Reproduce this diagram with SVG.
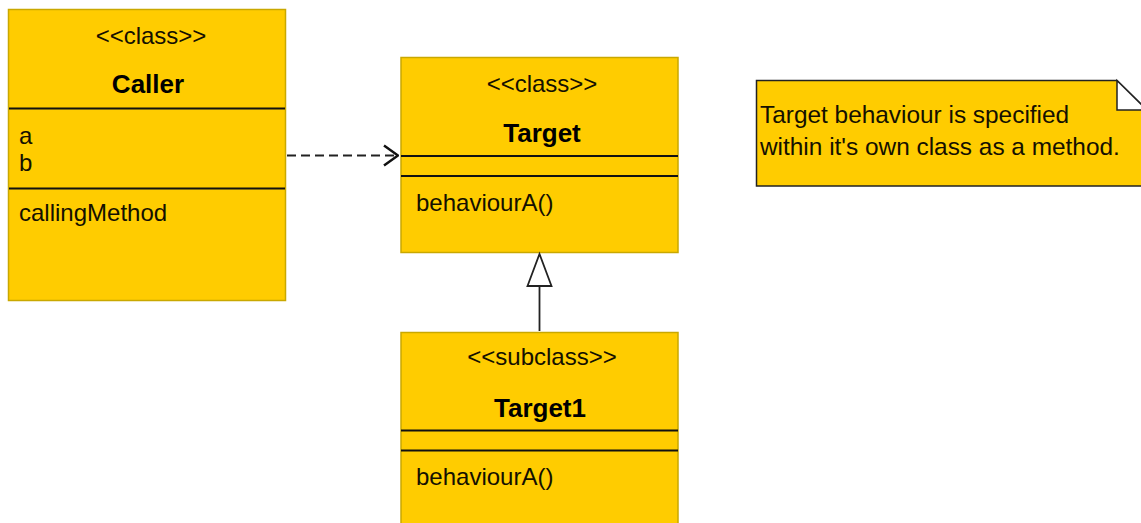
<svg xmlns="http://www.w3.org/2000/svg" width="1141" height="523" viewBox="0 0 1141 523">
<defs>
<style>
.box{fill:#ffcc00;stroke:#c9a800;stroke-width:1.5}
.sep{stroke:#111;stroke-width:2}
.t{font-family:"Liberation Sans",Arial,sans-serif;font-size:24px;fill:#141000}
.nt{font-family:"Liberation Sans",Arial,sans-serif;font-size:24.4px;fill:#141000}
.st{font-family:"Liberation Sans",Arial,sans-serif;font-size:24px;fill:#141000;text-anchor:middle}
.nm{font-family:"Liberation Sans",Arial,sans-serif;font-size:26px;font-weight:bold;fill:#000;text-anchor:middle}
.edge{fill:none;stroke:#222;stroke-width:1.8}
</style>
<marker id="open" markerWidth="16" markerHeight="24" refX="15" refY="12" orient="auto" markerUnits="userSpaceOnUse">
<path d="M1,2 L15,12 L1,22" fill="none" stroke="#111" stroke-width="2.5"/>
</marker>
</defs>
<rect width="1141" height="523" fill="#fff"/>
<g id="caller">
<rect class="box" x="8.5" y="9.5" width="277" height="291"/>
<line class="sep" x1="9" y1="108.5" x2="285" y2="108.5"/>
<line class="sep" x1="9" y1="188.5" x2="285" y2="188.5"/>
<text class="st" x="151" y="44">&lt;&lt;class&gt;&gt;</text>
<text class="nm" x="148" y="93">Caller</text>
<text class="t" x="19" y="144">a</text>
<text class="t" x="19" y="171">b</text>
<text class="t" x="19" y="221">callingMethod</text>
</g>
<g id="target">
<rect class="box" x="401" y="57.5" width="277" height="195"/>
<line class="sep" x1="401" y1="156" x2="678" y2="156"/>
<line class="sep" x1="401" y1="176" x2="678" y2="176"/>
<text class="st" x="542" y="92">&lt;&lt;class&gt;&gt;</text>
<text class="nm" x="542" y="142">Target</text>
<text class="t" x="416" y="211">behaviourA()</text>
</g>
<g id="target1">
<rect class="box" x="401" y="332.5" width="277" height="200"/>
<line class="sep" x1="401" y1="430.5" x2="678" y2="430.5"/>
<line class="sep" x1="401" y1="450.5" x2="678" y2="450.5"/>
<text class="st" x="542" y="365">&lt;&lt;subclass&gt;&gt;</text>
<text class="nm" x="540" y="417">Target1</text>
<text class="t" x="416" y="485">behaviourA()</text>
</g>
<g id="note">
<path d="M756.5,80.5 L1117,80.5 L1147,110 L1147,186 L756.5,186 Z" fill="#ffcc00" stroke="#222" stroke-width="1.5"/>
<path d="M1117,80.5 L1117,110 L1147,110 Z" fill="#fff" stroke="#222" stroke-width="1.5"/>
<text class="nt" x="760" y="123">Target behaviour is specified</text>
<text class="nt" x="760" y="155">within it's own class as a method.</text>
</g>
<g id="connectors">
<line class="edge" x1="287" y1="155.5" x2="398" y2="155.5" stroke-dasharray="9,5" marker-end="url(#open)"/>
<line class="edge" x1="539.5" y1="331" x2="539.5" y2="286"/>
<path d="M539.5,254 L551.5,286 L527.5,286 Z" fill="#fff" stroke="#222" stroke-width="1.8"/>
</g>
</svg>
